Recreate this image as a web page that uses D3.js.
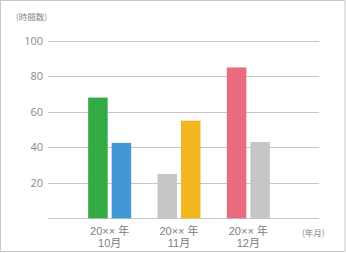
<!DOCTYPE html>
<html>
<head>
<meta charset="utf-8">
<script src="https://cdn.jsdelivr.net/npm/d3@7"></script>
<style>
	body { margin:0; background:#fff; }
	svg { display:block; font-family:"Noto Sans CJK JP", "Open Sans", sans-serif; }
	.xlabel { font-family:"Liberation Sans", "Noto Sans CJK JP", sans-serif; font-size:11px; }
</style>
</head>
<body>
<svg width="346" height="253"></svg>
<script>
(function() {

	// DATA
	var months = ['10月', '11月', '12月'];
	var yearLabel = '20×× 年';
	var firstValues = [68, 25, 85];
	var secondValues = [42.5, 55, 43];
	var firstColors = ['#33ab43', '#c6c6c6', '#ea6c80'];
	var secondColors = ['#4298d4', '#f2b61e', '#c6c6c6'];
	var yTicks = [0, 20, 40, 60, 80, 100];

	var svg = d3.select('svg');

	svg.append('rect')
		.attr('x', 0.5).attr('y', 0.5)
		.attr('width', 344.5).attr('height', 251)
		.attr('fill', '#fff')
		.attr('stroke', '#c8c8c8');

	var x = d3.scaleBand()
		.domain(months)
		.range([75, 283]);

	var y = d3.scaleLinear()
		.domain([0, 100])
		.range([218.3, 40.8]);

	// grid
	var grid = svg.append('g')
		.attr('transform', 'translate(48,0)')
		.style('color', '#8a8a8a')
		.call(d3.axisLeft(y).tickValues(yTicks).tickSize(-271).tickPadding(5)
			.tickFormat(function(d) { return d === 0 ? '' : d; }));

	grid.select('.domain').remove();
	grid.selectAll('line').attr('stroke', '#c6c6c6').attr('shape-rendering', 'crispEdges');
	grid.selectAll('text')
		.style('fill', '#8a8a8a')
		.style('font-size', '11px')
		.style('font-family', '"Open Sans", sans-serif');

	var barW = 19.5;
	var gap = 4;

	var groups = svg.append('g').selectAll('g')
		.data(months)
		.enter().append('g');

	groups.append('rect')
		.attr('x', function(d) { return x(d) + x.bandwidth() / 2 - gap / 2 - barW; })
		.attr('y', function(d, i) { return y(firstValues[i]); })
		.attr('width', barW)
		.attr('height', function(d, i) { return y(0) - y(firstValues[i]); })
		.attr('fill', function(d, i) { return firstColors[i]; });

	groups.append('rect')
		.attr('x', function(d) { return x(d) + x.bandwidth() / 2 + gap / 2; })
		.attr('y', function(d, i) { return y(secondValues[i]); })
		.attr('width', barW)
		.attr('height', function(d, i) { return y(0) - y(secondValues[i]); })
		.attr('fill', function(d, i) { return secondColors[i]; });

	// x labels
	groups.append('text')
		.attr('class', 'xlabel')
		.attr('x', function(d) { return x(d) + x.bandwidth() / 2; })
		.attr('y', 234.5)
		.attr('text-anchor', 'middle')
		.attr('fill', '#808080')
		.text(yearLabel);

	groups.append('text')
		.attr('class', 'xlabel')
		.attr('x', function(d) { return x(d) + x.bandwidth() / 2; })
		.attr('y', 247)
		.attr('text-anchor', 'middle')
		.attr('fill', '#808080')
		.text(function(d) { return d; });

	svg.append('text')
		.attr('x', 16).attr('y', 20)
		.attr('fill', '#888')
		.style('font-size', '8.5px')
		.text('(時間数)');

	svg.append('text')
		.attr('x', 302).attr('y', 236)
		.attr('fill', '#888')
		.style('font-size', '8.5px')
		.text('(年月)');
})()
</script>
</body>
</html>
